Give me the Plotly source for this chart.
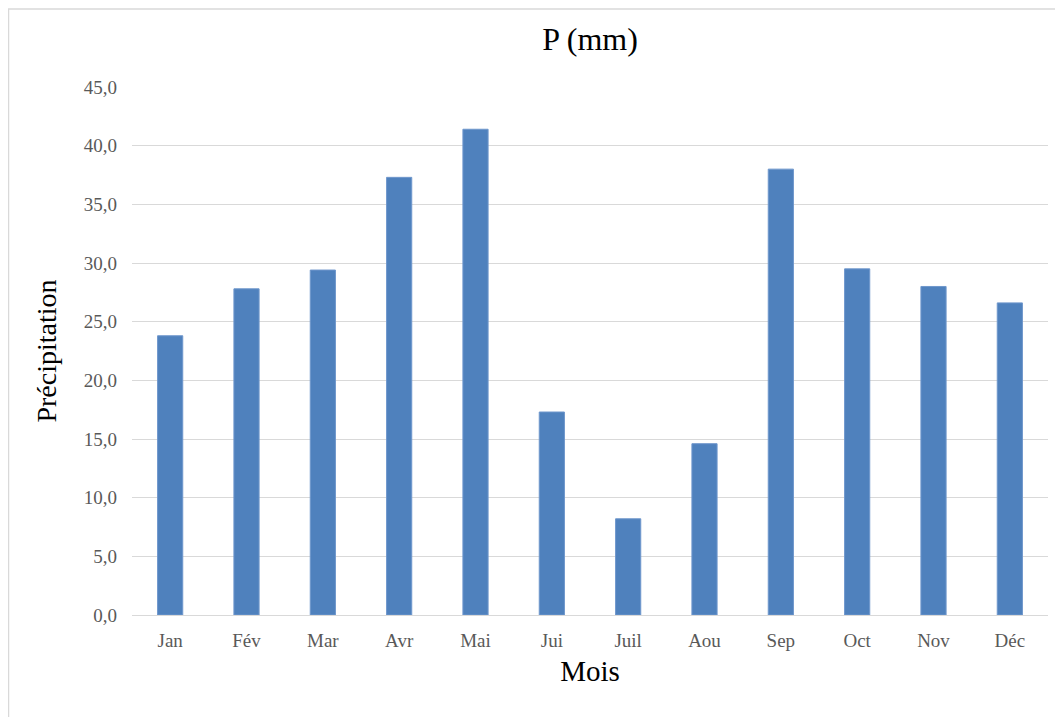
import plotly.graph_objects as go

months = ["Jan", "Fév", "Mar", "Avr", "Mai", "Jui", "Juil", "Aou", "Sep", "Oct", "Nov", "Déc"]
precip = [23.8, 27.8, 29.4, 37.3, 41.4, 17.3, 8.2, 14.6, 38.0, 29.5, 28.0, 26.6]
y_ticks = [0, 5, 10, 15, 20, 25, 30, 35, 40, 45]

W, H = 1055, 709
L, R, T, B = 124, 15, 79, 102
PW, PH = W - L - R, H - T - B

fig = go.Figure(go.Bar(
    x=months, y=precip,
    marker=dict(color="#4F81BD", line=dict(color="#6f97cc", width=1)),
))

fig.update_layout(
    width=W, height=H,
    paper_bgcolor="white", plot_bgcolor="white",
    separators=", ",
    margin=dict(l=L, r=R, t=T, b=B),
    bargap=0.67,
    showlegend=False,
    font=dict(family="Liberation Serif", color="#595959"),
    title=dict(text="P (mm)", x=0.5, xref="paper", xanchor="center", y=1 - 31 / H, yanchor="middle",
               font=dict(family="Liberation Serif", size=32, color="#000000")),
    xaxis=dict(
        showgrid=False, showline=True, linecolor="#d9d9d9", linewidth=1,
        ticks="", tickfont=dict(size=19, color="#595959"), ticklabelstandoff=8,
        title=dict(text="Mois", font=dict(size=29, color="#000000"), standoff=10),
    ),
    yaxis=dict(
        range=[0, 45], tickvals=y_ticks, tickformat=".1f",
        showgrid=True, gridcolor="#d9d9d9", gridwidth=1,
        zeroline=False, showline=False, ticks="",
        tickfont=dict(size=19, color="#595959"), ticklabelstandoff=14,
        title=dict(text="Précipitation", font=dict(size=28, color="#000000"), standoff=18),
    ),
    shapes=[dict(type="rect", xref="paper", yref="paper",
                 x0=-(L - 0.5) / PW, x1=1 + (R + 20) / PW, y0=-(B + 20) / PH, y1=1 + (T - 1) / PH,
                 line=dict(color="#d9d9d9", width=1.5), fillcolor="rgba(0,0,0,0)")],
)

fig.write_html("out.html")
